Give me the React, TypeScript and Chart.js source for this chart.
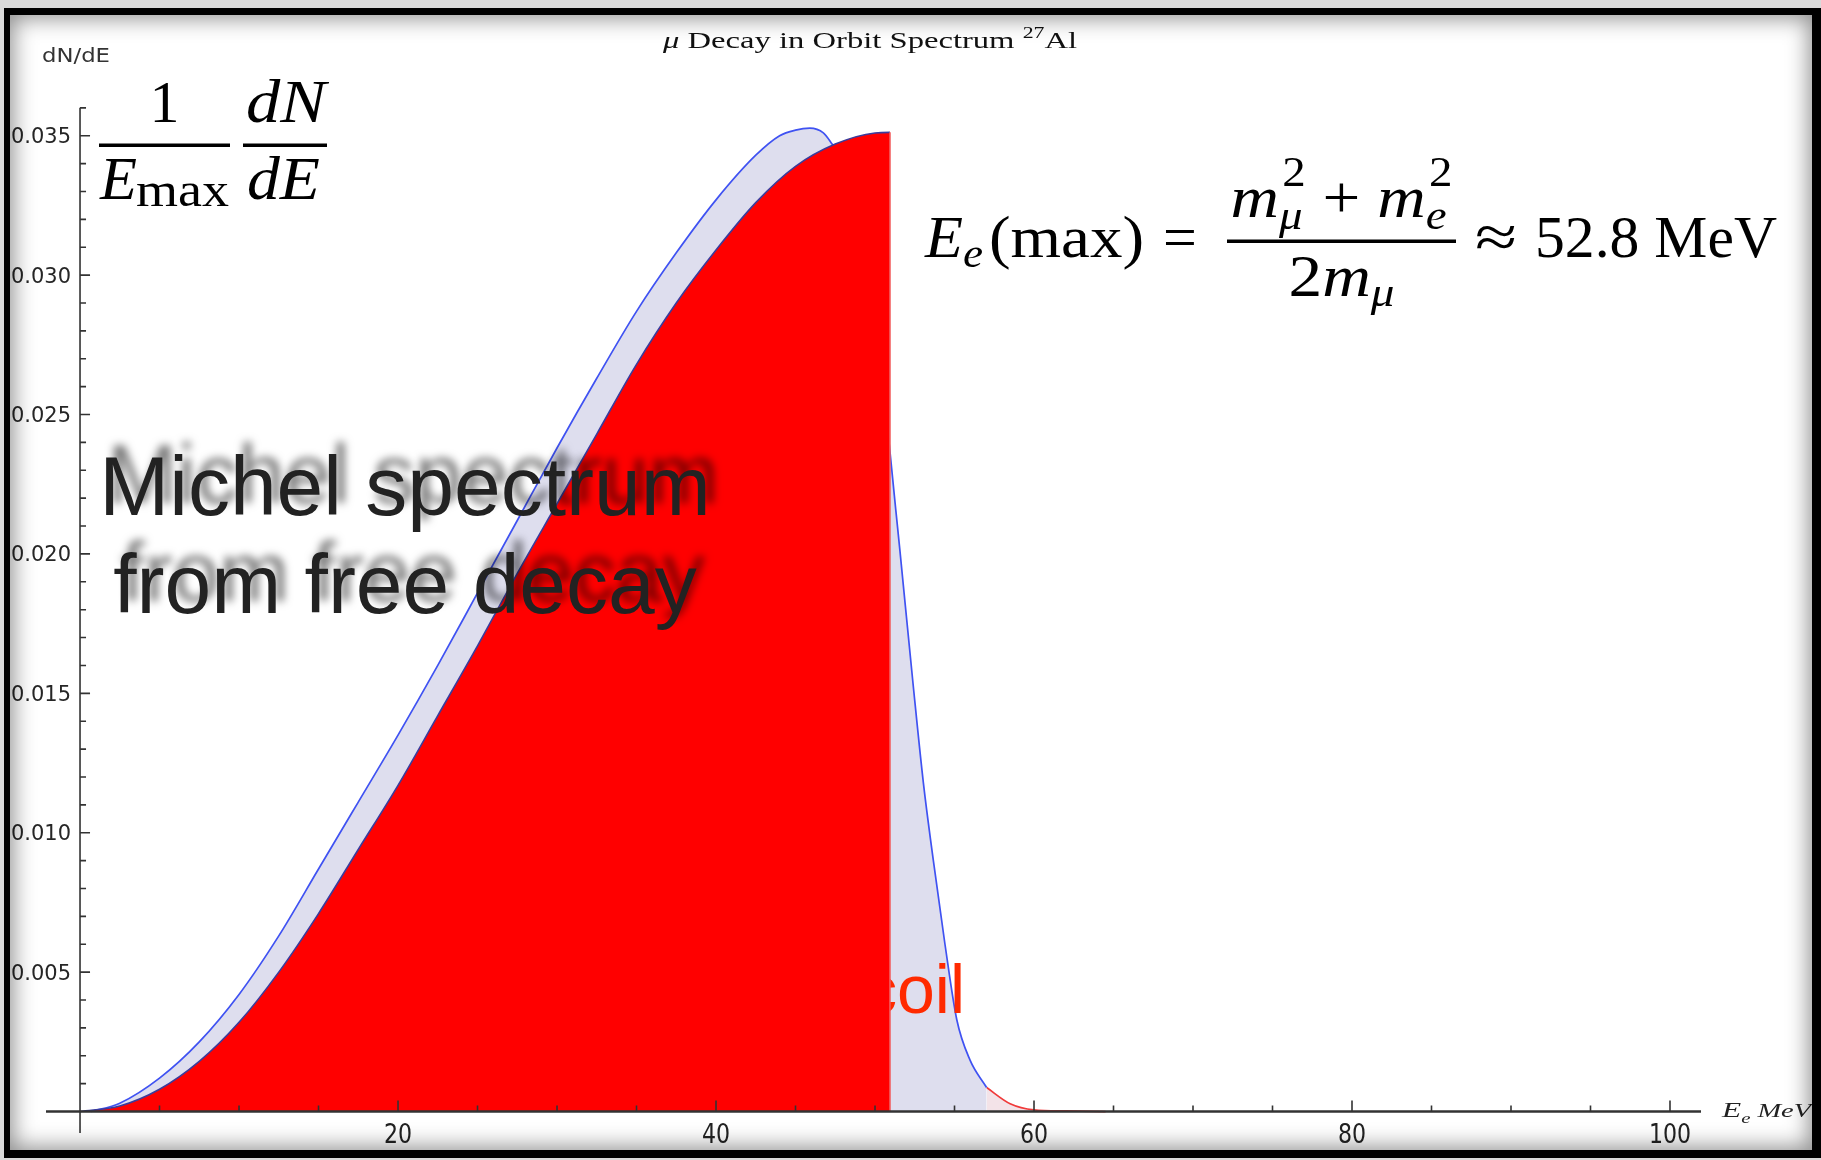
import React, { useEffect, useRef } from "react";
import { Chart, registerables } from "chart.js";

Chart.register(...registerables);

const SERIF = '"Liberation Serif", "DejaVu Serif", "Times New Roman", serif';
const SANS = '"Liberation Sans", Arial, "DejaVu Sans", sans-serif';
const DEJAVU = '"DejaVu Sans", "Noto Sans", sans-serif';

// Decay-in-orbit spectrum for 27Al (MeV, 1/Emax dN/dE)
const dioEnergy = [0.7, 2.5, 5, 7.5, 10, 12.5, 15, 17.5, 20, 22.5, 25, 27.5, 30, 32.5, 35, 37.5, 40, 42.5, 44, 45, 45.9, 46.75, 47.3, 48, 49, 50, 50.9, 51.57, 52.4, 53.04, 53.67, 54.4, 55.14, 55.97, 57.02];
const dioValue = [0, 0.0003, 0.0012, 0.0025, 0.0042, 0.0063, 0.0087, 0.0111, 0.0135, 0.016, 0.0186, 0.0212, 0.0238, 0.0263, 0.0287, 0.0308, 0.0327, 0.0343, 0.035, 0.0352, 0.03527, 0.0351, 0.0347, 0.0341, 0.0326, 0.0296, 0.0239, 0.0201, 0.0153, 0.0118, 0.009, 0.006, 0.0033, 0.00185, 0.00086];

// High-energy recoil tail of the same spectrum
const tailEnergy = [57.02, 58.5, 60, 62, 64.5];
const tailValue = [0.00086, 0.00028, 0.00006, 0.00002, 0];

// Michel spectrum from free muon decay, cut at the endpoint
const michelEnergy = [0, 2.5, 5, 7.5, 10, 12.5, 15, 17.5, 20, 22.5, 25, 27.5, 30, 32.5, 35, 37.5, 40, 42.5, 45, 47.5, 50, 50.94, 50.94];
const michelValue = [0, 0.0002, 0.0008, 0.0018, 0.0032, 0.005, 0.0071, 0.0094, 0.0117, 0.0142, 0.0167, 0.0193, 0.0218, 0.0243, 0.0268, 0.029, 0.0309, 0.0326, 0.0339, 0.0347, 0.0351, 0.03512, 0];

// Axis ticks
const yMajorTicks = [0.005, 0.01, 0.015, 0.02, 0.025, 0.03, 0.035];
const yTickLabels = ["0.005", "0.010", "0.015", "0.020", "0.025", "0.030", "0.035"];
const yMinorTicks = [0.001, 0.002, 0.003, 0.004, 0.006, 0.007, 0.008, 0.009, 0.011, 0.012, 0.013, 0.014, 0.016, 0.017, 0.018, 0.019, 0.021, 0.022, 0.023, 0.024, 0.026, 0.027, 0.028, 0.029, 0.031, 0.032, 0.033, 0.034, 0.036];
const xMajorTicks = [20, 40, 60, 80, 100];
const xTickLabels = ["20", "40", "60", "80", "100"];
const xMinorTicks = [5, 10, 15, 25, 30, 35, 45, 50, 55, 65, 70, 75, 85, 90, 95];

const toPoints = (xs: number[], ys: number[]) => xs.map((x, i) => ({ x, y: ys[i] }));

// A piece of text; na = do not advance (used for stacked sub/superscripts)
type Run = { t: string; f: string; dy?: number; na?: boolean; dx?: number };

function runsWidth(ctx: CanvasRenderingContext2D, runs: Run[]) {
  let w = 0;
  let last = 0;
  for (const r of runs) {
    ctx.font = r.f;
    const rw = ctx.measureText(r.t).width + (r.dx || 0);
    if (r.na) {
      last = Math.max(last, rw);
    } else {
      w += Math.max(rw, last);
      last = 0;
    }
  }
  return w + last;
}

// Draws a row of text runs, optionally stretched horizontally to a given width
function drawRuns(
  ctx: CanvasRenderingContext2D,
  runs: Run[],
  x: number,
  y: number,
  width?: number,
  color = "#000",
  align: "left" | "center" = "left"
) {
  const w = runsWidth(ctx, runs);
  const sx = width ? width / w : 1;
  const startX = align === "center" ? x - (w * sx) / 2 : x;
  ctx.save();
  ctx.translate(startX, y);
  ctx.scale(sx, 1);
  ctx.fillStyle = color;
  ctx.textAlign = "left";
  ctx.textBaseline = "alphabetic";
  let cx = 0;
  let last = 0;
  for (const r of runs) {
    ctx.font = r.f;
    const rw = ctx.measureText(r.t).width + (r.dx || 0);
    ctx.fillText(r.t, cx + (r.dx || 0), r.dy || 0);
    if (r.na) {
      last = Math.max(last, rw);
    } else {
      cx += Math.max(rw, last);
      last = 0;
    }
  }
  ctx.restore();
}

const overlayPlugin = {
  id: "overlay",
  afterDatasetDraw(chart: any, args: any) {
    if (args.index !== 1) return;
    const ctx: CanvasRenderingContext2D = chart.ctx;
    ctx.save();
    ctx.font = `68px ${SANS}`;
    ctx.fillStyle = "#ff2a00";
    ctx.textAlign = "left";
    ctx.textBaseline = "alphabetic";
    ctx.fillText("coil", 863, 1013);
    ctx.restore();
  },
  afterDraw(chart: any) {
    const ctx: CanvasRenderingContext2D = chart.ctx;
    const xs = chart.scales.x;
    const ys = chart.scales.y;
    const area = chart.chartArea;
    const x0 = xs.getPixelForValue(0);
    const y0 = ys.getPixelForValue(0);
    ctx.save();

    // axes
    ctx.strokeStyle = "#333";
    ctx.lineWidth = 2.5;
    ctx.beginPath();
    ctx.moveTo(area.left, y0);
    ctx.lineTo(area.right, y0);
    ctx.stroke();
    ctx.lineWidth = 1.6;
    ctx.beginPath();
    ctx.moveTo(x0, ys.getPixelForValue(0.036));
    ctx.lineTo(x0, area.bottom);
    ctx.stroke();

    // ticks
    ctx.beginPath();
    for (const v of yMajorTicks) {
      const py = ys.getPixelForValue(v);
      ctx.moveTo(x0, py);
      ctx.lineTo(x0 + 10, py);
    }
    for (const v of yMinorTicks) {
      const py = ys.getPixelForValue(v);
      ctx.moveTo(x0, py);
      ctx.lineTo(x0 + 6, py);
    }
    for (const v of xMajorTicks) {
      const px = xs.getPixelForValue(v);
      ctx.moveTo(px, y0);
      ctx.lineTo(px, y0 - 11);
    }
    for (const v of xMinorTicks) {
      const px = xs.getPixelForValue(v);
      ctx.moveTo(px, y0);
      ctx.lineTo(px, y0 - 6);
    }
    ctx.stroke();

    // y tick labels
    yMajorTicks.forEach((v, i) => {
      const py = ys.getPixelForValue(v);
      drawRuns(ctx, [{ t: yTickLabels[i], f: `21px ${DEJAVU}` }], x0 - 69, py + 7.5, 60, "#262626");
    });

    // x tick labels
    xMajorTicks.forEach((v, i) => {
      const px = xs.getPixelForValue(v);
      ctx.save();
      ctx.translate(px, y0 + 31);
      ctx.scale(0.85, 1);
      ctx.fillStyle = "#222";
      ctx.font = `26px ${DEJAVU}`;
      ctx.textAlign = "center";
      ctx.textBaseline = "alphabetic";
      ctx.fillText(xTickLabels[i], 0, 0);
      ctx.restore();
    });

    // axis labels
    drawRuns(ctx, [{ t: "dN/dE", f: `19px ${DEJAVU}` }], 42, 62, 68, "#333");
    drawRuns(
      ctx,
      [
        { t: "E", f: `italic 21px ${SERIF}` },
        { t: "e", f: `italic 14px ${SERIF}`, dy: 6 },
        { t: " MeV", f: `italic 19px ${SERIF}` },
      ],
      1722,
      1117,
      89,
      "#222"
    );

    // title
    drawRuns(
      ctx,
      [
        { t: "μ", f: `italic 24px ${SERIF}` },
        { t: " Decay in Orbit Spectrum ", f: `24px ${SERIF}` },
        { t: "27", f: `16px ${SERIF}`, dy: -10 },
        { t: "Al", f: `24px ${SERIF}` },
      ],
      663,
      48,
      414,
      "#111"
    );

    // normalisation formula: 1/Emax dN/dE
    const big = `60px ${SERIF}`;
    const bigI = `italic 62px ${SERIF}`;
    ctx.fillStyle = "#000";
    drawRuns(ctx, [{ t: "1", f: big }], 164.5, 122, undefined, "#000", "center");
    ctx.fillRect(99, 143.5, 131, 3.5);
    drawRuns(ctx, [{ t: "E", f: bigI }], 100, 199, 37);
    drawRuns(ctx, [{ t: "max", f: `48px ${SERIF}` }], 136, 206, 93);
    ctx.fillRect(243, 143.5, 84, 3.5);
    drawRuns(ctx, [{ t: "dN", f: bigI }], 246, 122, 80);
    drawRuns(ctx, [{ t: "dE", f: bigI }], 247, 199, 73);

    // endpoint formula
    const f60 = `60px ${SERIF}`;
    const f60i = `italic 60px ${SERIF}`;
    const f42 = `42px ${SERIF}`;
    const f42i = `italic 42px ${SERIF}`;
    drawRuns(ctx, [{ t: "E", f: f60i }], 925, 257, 38);
    drawRuns(ctx, [{ t: "e", f: f42i }], 963, 267, 20);
    drawRuns(ctx, [{ t: "(max)", f: f60 }], 989, 257, 155);
    drawRuns(ctx, [{ t: "=", f: f60 }], 1180, 257, undefined, "#000", "center");
    ctx.fillRect(1227, 239.5, 229, 3.5);
    drawRuns(
      ctx,
      [
        { t: "m", f: f60i },
        { t: "μ", f: f42i, dy: 12, na: true },
        { t: "2", f: f42, dy: -31, dx: 3 },
        { t: " + ", f: f60 },
        { t: "m", f: f60i },
        { t: "e", f: f42i, dy: 12, na: true },
        { t: "2", f: f42, dy: -31, dx: 3 },
      ],
      1341.5,
      217,
      222,
      "#000",
      "center"
    );
    drawRuns(
      ctx,
      [
        { t: "2", f: f60 },
        { t: "m", f: f60i },
        { t: "μ", f: f42i, dy: 10 },
      ],
      1341.5,
      296,
      106,
      "#000",
      "center"
    );
    drawRuns(ctx, [{ t: "≈", f: f60 }], 1475, 257, 42);
    drawRuns(ctx, [{ t: "52.8 MeV", f: f60 }], 1535, 257, 242);

    // caption with soft shadow
    ctx.save();
    ctx.font = `84px ${SANS}`;
    ctx.fillStyle = "#222";
    ctx.textAlign = "center";
    ctx.textBaseline = "alphabetic";
    ctx.shadowColor = "rgba(0,0,0,0.55)";
    ctx.shadowBlur = 9;
    ctx.shadowOffsetX = 8;
    ctx.shadowOffsetY = -12;
    ctx.fillText("Michel spectrum", 405, 515);
    ctx.fillText("from free decay", 405, 613);
    ctx.restore();

    ctx.restore();
  },
};

export default function App() {
  const canvasRef = useRef<HTMLCanvasElement | null>(null);

  useEffect(() => {
    const canvas = canvasRef.current;
    if (!canvas) return;
    const chart = new Chart(canvas, {
      type: "line",
      data: {
        datasets: [
          {
            label: "Michel",
            data: toPoints(michelEnergy, michelValue),
            borderColor: "#3a3c9c",
            borderWidth: 1.6,
            backgroundColor: "#ff0000",
            fill: "origin",
            pointRadius: 0,
            cubicInterpolationMode: "monotone",
            segment: {
              borderColor: (c: any) => (c.p0.parsed.x === c.p1.parsed.x ? "#f25a5a" : undefined),
            },
          },
          {
            label: "DIO",
            data: toPoints(dioEnergy, dioValue),
            borderColor: "#3f52f2",
            borderWidth: 1.7,
            backgroundColor: "#dedeee",
            fill: "origin",
            pointRadius: 0,
            cubicInterpolationMode: "monotone",
          },
          {
            label: "DIO tail",
            data: toPoints(tailEnergy, tailValue),
            borderColor: "#f03a3a",
            borderWidth: 1.7,
            backgroundColor: "#f3e3e8",
            fill: "origin",
            pointRadius: 0,
            cubicInterpolationMode: "monotone",
          },
        ],
      },
      options: {
        animation: false,
        responsive: false,
        layout: { padding: { left: 46, top: 107, right: 120, bottom: 27 } },
        scales: {
          x: { type: "linear", min: -2.14, max: 101.95, display: false },
          y: { type: "linear", min: -0.00077, max: 0.03603, display: false },
        },
        plugins: {
          legend: { display: false },
          tooltip: { enabled: false },
        },
      },
      plugins: [overlayPlugin],
    } as any);
    return () => chart.destroy();
  }, []);

  return (
    <div
      style={{
        position: "absolute",
        left: 0,
        top: 0,
        width: 1821,
        height: 1160,
        background: "#d9d9d9",
        overflow: "hidden",
      }}
    >
      <div style={{ position: "absolute", left: 4, top: 8, width: 1817, height: 1150, background: "#fff" }} />
      <canvas ref={canvasRef} width={1821} height={1160} style={{ position: "absolute", left: 0, top: 0 }} />
      <div
        style={{
          position: "absolute",
          left: 4,
          top: 8,
          width: 1817,
          height: 1150,
          boxSizing: "border-box",
          borderStyle: "solid",
          borderColor: "#000",
          borderWidth: "7px 9px 8px 6px",
          boxShadow: "inset 0 0 22px 3px rgba(0,0,0,0.45)",
          pointerEvents: "none",
        }}
      />
    </div>
  );
}
